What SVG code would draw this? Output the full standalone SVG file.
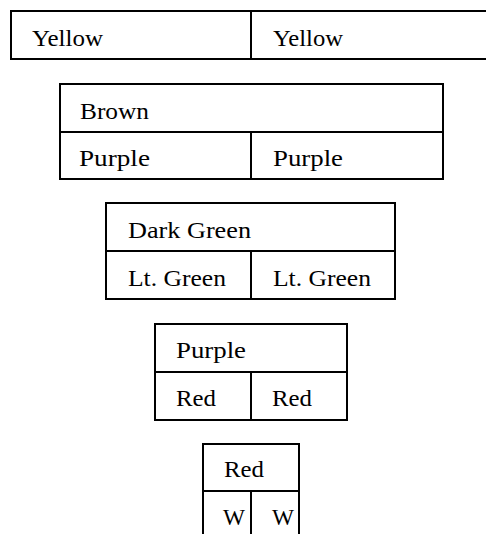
<svg xmlns="http://www.w3.org/2000/svg" width="486" height="534" viewBox="0 0 486 534">
<style>
.c{fill:none;stroke:#000;stroke-width:2}
.t{font-family:"Liberation Serif","Times New Roman",serif;font-size:23px;fill:#000}
</style>
<rect width="486" height="534" fill="#fff"/>
<g id="tier1">
<path class="c" d="M490 11H11V59H490M251 11V59"/>
<text class="t" x="32" y="46" textLength="71" lengthAdjust="spacingAndGlyphs">Yellow</text>
<text class="t" x="273" y="46" textLength="70" lengthAdjust="spacingAndGlyphs">Yellow</text>
</g>
<g id="tier2">
<rect class="c" x="60" y="84" width="383" height="95"/>
<path class="c" d="M60 132H443M251 132V179"/>
<text class="t" x="80" y="119" textLength="69" lengthAdjust="spacingAndGlyphs">Brown</text>
<text class="t" x="79" y="166" textLength="71" lengthAdjust="spacingAndGlyphs">Purple</text>
<text class="t" x="273" y="166" textLength="70" lengthAdjust="spacingAndGlyphs">Purple</text>
</g>
<g id="tier3">
<rect class="c" x="106" y="203" width="289" height="96"/>
<path class="c" d="M106 251H395M251 251V299"/>
<text class="t" x="128" y="238" textLength="123" lengthAdjust="spacingAndGlyphs">Dark Green</text>
<text class="t" x="128" y="286" textLength="98" lengthAdjust="spacingAndGlyphs">Lt. Green</text>
<text class="t" x="273" y="286" textLength="98" lengthAdjust="spacingAndGlyphs">Lt. Green</text>
</g>
<g id="tier4">
<rect class="c" x="155" y="324" width="192" height="96"/>
<path class="c" d="M155 372H347M251 372V420"/>
<text class="t" x="176" y="358" textLength="70" lengthAdjust="spacingAndGlyphs">Purple</text>
<text class="t" x="176" y="406" textLength="40" lengthAdjust="spacingAndGlyphs">Red</text>
<text class="t" x="272" y="406" textLength="40" lengthAdjust="spacingAndGlyphs">Red</text>
</g>
<g id="tier5">
<path class="c" d="M203 540V444H299V540M203 491H299M251 491V540"/>
<text class="t" x="224" y="477" textLength="40" lengthAdjust="spacingAndGlyphs">Red</text>
<text class="t" x="223" y="525" textLength="22" lengthAdjust="spacingAndGlyphs">W</text>
<text class="t" x="272" y="525" textLength="22" lengthAdjust="spacingAndGlyphs">W</text>
</g>
<g id="connectors"></g>
</svg>
